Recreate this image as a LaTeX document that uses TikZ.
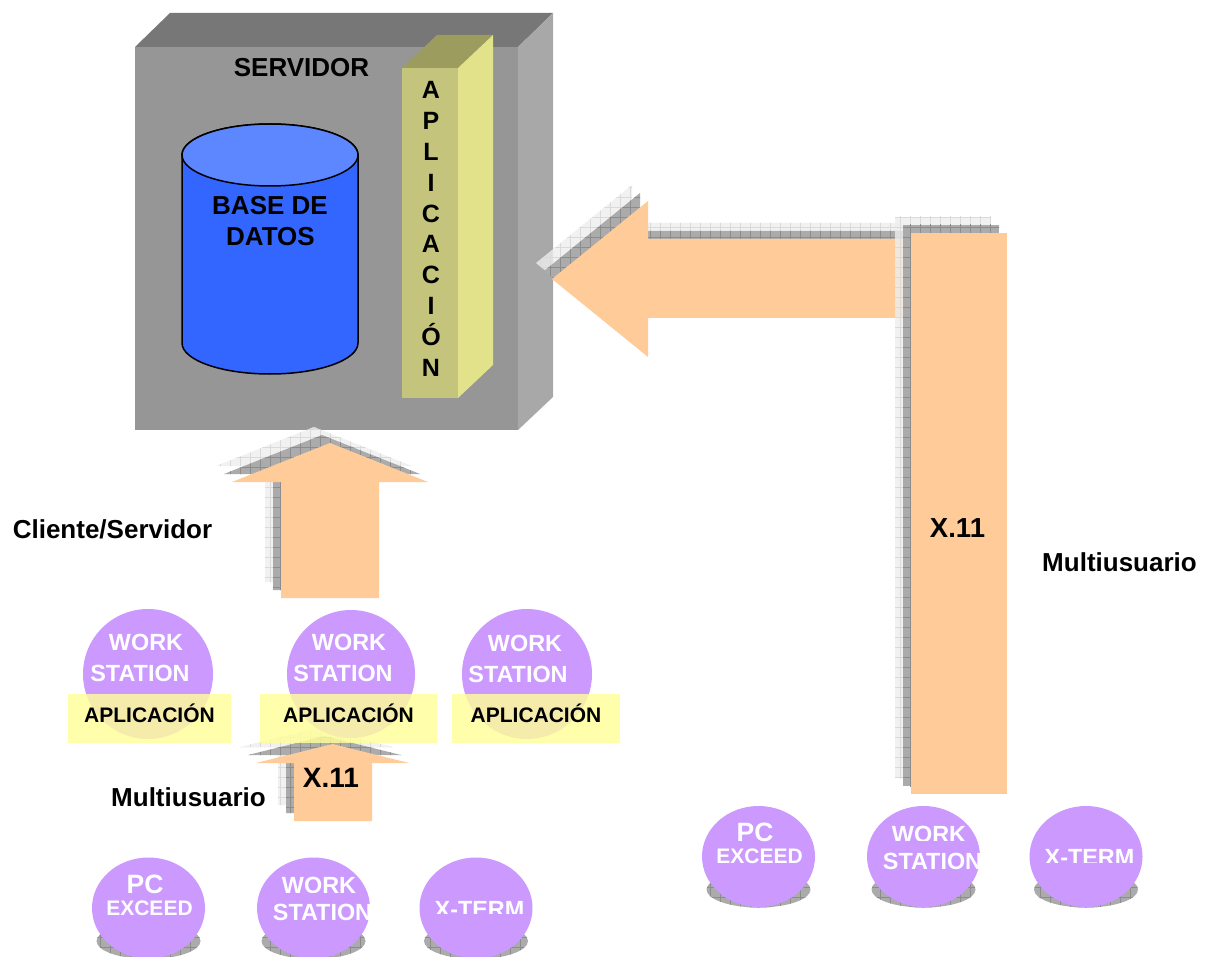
\documentclass[tikz,border=0pt]{standalone}
\usepackage{fontspec}
\setmainfont{Liberation Sans}
\usetikzlibrary{patterns.meta}

\definecolor{cSrvFront}{HTML}{969696}
\definecolor{cSrvTop}{HTML}{777777}
\definecolor{cSrvSide}{HTML}{A8A8A8}
\definecolor{cColFront}{HTML}{C4C47C}
\definecolor{cColTop}{HTML}{9C9C5E}
\definecolor{cColSide}{HTML}{E2E28A}
\definecolor{cDbBody}{HTML}{3366FF}
\definecolor{cDbTop}{HTML}{5C87FF}
\definecolor{cFlow}{HTML}{FFCC99}
\definecolor{cHost}{HTML}{CC99FF}
\definecolor{cTag}{HTML}{FFFF99}
\definecolor{cShDark}{HTML}{ABABAB}
\definecolor{cShGrid}{HTML}{8C8C8C}
\definecolor{cShLight}{HTML}{EEEEEE}
\definecolor{cShLightGrid}{HTML}{DADADA}

\newcommand\tsz[1]{\fontsize{#1}{#1}\selectfont\bfseries}

% block-arrow outlines (pixel grid, y downwards)
\def\harrowpath{(552,279) -- (648,201) -- (648,239) -- (915,239) -- (915,318) -- (648,318) -- (648,357) -- cycle}
\def\vbarpath{(911,233) rectangle (1007,794)}
\def\bigarrowpath{(330,443) -- (428,482) -- (379,482) -- (379,598) -- (281,598) -- (281,482) -- (232,482) -- cycle}
\def\smallarrowpath{(332.5,744) -- (409,763) -- (372,763) -- (372,821) -- (294,821) -- (294,763) -- (256,763) -- cycle}

% one row of terminals: PC, workstation, X terminal
\newcommand\terminalrow{%
  \path[darkshadow] (148.5,941) ellipse[x radius=52pt, y radius=18pt];
  \path[darkshadow] (313.5,941) ellipse[x radius=52pt, y radius=18pt];
  \path[darkshadow] (476,941) ellipse[x radius=52pt, y radius=18pt];
  \fill[cHost] (148.5,908) ellipse[x radius=56.5pt, y radius=50.5pt];
  \fill[cHost] (313.5,908) ellipse[x radius=56.5pt, y radius=50.5pt];
  \fill[cHost] (476,908) ellipse[x radius=56.5pt, y radius=50.5pt];
  \node[hosttxt, font=\tsz{26.5}] (pc) at (145,893) {PC};
  \node[hosttxt, font=\tsz{21}] (exceed) at (149.5,915) {EXCEED};
  \begin{scope}
    \clip (250,860) rectangle (380,892);
    \node[hosttxt, font=\tsz{23.4}] (work) at (319,893.5) {WORK};
  \end{scope}
  \begin{scope}
    \clip (313.5,908) ellipse[x radius=56.5pt, y radius=50.5pt];
    \node[hosttxt, font=\tsz{23.4}] (station) at (322.5,920.5) {STATION};
  \end{scope}
  \begin{scope}
    \clip (410,880) rectangle (540,913.6);
    \node[hosttxt, font=\tsz{23.4}] (xterm) at (479.5,917) {X-TERM};
  \end{scope}%
}

\begin{document}
\begin{tikzpicture}[x=1pt, y=-1pt,
  txt/.style={anchor=base, inner sep=0pt, outer sep=0pt, text=black},
  hosttxt/.style={txt, text=white},
  darkshadow/.style={fill=cShDark,
    postaction={pattern color=cShGrid, pattern={Hatch[distance=10pt, line width=0.5pt]}}},
  lightshadow/.style={fill=cShLight, fill opacity=0.8,
    postaction={pattern color=cShLightGrid, pattern={Hatch[distance=10pt, line width=0.5pt]}}},
  flow/.style={fill=cFlow},
  tagbox/.style={fill=cTag, fill opacity=0.82}]

\useasboundingbox (0,0) rectangle (1209,957);
\fill[white] (0,0) rectangle (1209,957);

% server cabinet
\fill[cSrvTop] (135,47) -- (170,13) -- (553,13) -- (518,47) -- cycle;
\fill[cSrvSide] (518,47) -- (553,13) -- (553,397) -- (518,430) -- cycle;
\fill[cSrvFront] (135,47) rectangle (518,430);

% application column
\fill[cColTop] (402,68) -- (437,35) -- (493,35) -- (458,68) -- cycle;
\fill[cColSide] (458,68) -- (493,35) -- (493,365) -- (458,398) -- cycle;
\fill[cColFront] (402,68) rectangle (458,398);

% database cylinder
\path[fill=cDbBody, draw=black, line width=1.5pt]
  (182,155) -- (182,343) arc[start angle=180, end angle=360, x radius=88pt, y radius=31pt]
  -- (358,155) arc[start angle=0, end angle=180, x radius=88pt, y radius=31pt] -- cycle;
\path[fill=cDbTop, draw=black, line width=1.5pt] (270,155) ellipse[x radius=88pt, y radius=31pt];

\node[txt, font=\tsz{26}] (servidor) at (301.5,76.7) {SERVIDOR};
\node[txt, font=\tsz{26}] (base) at (270,215) {BASE DE};
\node[txt, font=\tsz{26}] (datos) at (270.5,246) {DATOS};
\foreach \ch [count=\i from 0] in {A,P,L,I,C,A,C,I,Ó,N}
  \node[txt, font=\tsz{25}] (col\i) at (431,99+30.78*\i) {\ch};

% bent arrow towards the server
\path[lightshadow, shift={(-16,-16)}] \harrowpath;
\path[darkshadow, shift={(-8,-8)}] \harrowpath;
\path[flow] \harrowpath;
\path[lightshadow, shift={(-16,-16)}] \vbarpath;
\path[darkshadow, shift={(-8,-8)}] \vbarpath;
\path[flow] \vbarpath;

% client/server arrow
\path[lightshadow, shift={(-16,-16)}] \bigarrowpath;
\path[darkshadow, shift={(-8,-8)}] \bigarrowpath;
\path[flow] \bigarrowpath;

% X.11 arrow under the middle workstation
\path[lightshadow, shift={(-16,-16)}] \smallarrowpath;
\path[darkshadow, shift={(-8,-8)}] \smallarrowpath;
\path[flow] \smallarrowpath;

% workstations with their application tags
\fill[cHost] (148,674) circle[radius=65pt];
\fill[cHost] (351,674) circle[radius=64pt];
\fill[cHost] (527,674) circle[radius=65pt];
\node[hosttxt, font=\tsz{23.4}] (ws1a) at (146,650) {WORK};
\node[hosttxt, font=\tsz{23.4}] (ws1b) at (140,681) {STATION};
\node[hosttxt, font=\tsz{23.4}] (ws2a) at (349,650.5) {WORK};
\node[hosttxt, font=\tsz{23.4}] (ws2b) at (343,681.5) {STATION};
\node[hosttxt, font=\tsz{23.4}] (ws3a) at (525,651) {WORK};
\node[hosttxt, font=\tsz{23.4}] (ws3b) at (518,682) {STATION};
\path[tagbox] (68,694) rectangle (231,743);
\path[tagbox] (260,694) rectangle (437,743);
\path[tagbox] (452,694) rectangle (620,743);
\node[txt, font=\tsz{21}] (tag1) at (149.5,722) {APLICACIÓN};
\node[txt, font=\tsz{21}] (tag2) at (348.5,722) {APLICACIÓN};
\node[txt, font=\tsz{21}] (tag3) at (536,722) {APLICACIÓN};

% terminal rows
\begin{scope}[name prefix=L-]
  \terminalrow
\end{scope}
\begin{scope}[shift={(610,-51.5)}, name prefix=R-]
  \terminalrow
\end{scope}

% captions
\node[txt, font=\tsz{26}] (cs) at (112.5,538.5) {Cliente/Servidor};
\node[txt, font=\tsz{26}] (mu1) at (188.5,806) {Multiusuario};
\node[txt, font=\tsz{28}] (x1) at (331,787) {X.11};
\node[txt, font=\tsz{26}] (mu2) at (1119.5,571.5) {Multiusuario};
\node[txt, font=\tsz{27.5}] (x2) at (957.5,537) {X.11};
\end{tikzpicture}
\end{document}
